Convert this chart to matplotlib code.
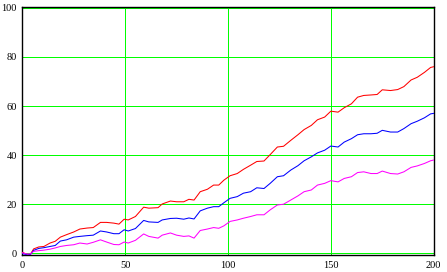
import matplotlib
matplotlib.use("Agg")
from matplotlib import pyplot as plt

# sample positions
x = [0, 2.5, 4, 5.5, 8, 10.5, 13.5, 16, 18.5, 21.5, 25, 28, 31.5, 34.5, 38,
     41, 44.5, 47, 49.5, 51.5, 55, 59, 61.5, 66, 68, 72, 75, 78.5, 81, 83.5,
     86.5, 90, 93, 95.5, 98, 101, 104.5, 107.5, 111, 114, 117.5, 120.5, 124,
     127, 130.5, 134, 137, 140.5, 143.5, 147, 150, 153.5, 156.5, 160, 163,
     166, 169.5, 172.5, 175, 179, 182.5, 185.5, 189, 192, 195.5, 198.5, 200]

red = [0.4, -0.5, -0.3, 1.8, 2.6, 2.8, 4.2, 4.9, 6.6, 7.6, 8.7, 9.9, 10.3,
       10.5, 12.6, 12.6, 12.3, 11.9, 13.9, 13.6, 15.0, 18.8, 18.4, 18.6, 20.1,
       21.3, 21.0, 21.0, 22.0, 21.7, 25.1, 26.1, 27.8, 27.8, 29.8, 31.6, 32.5,
       34.2, 35.9, 37.4, 37.6, 40.2, 43.3, 43.6, 46.0, 48.3, 50.4, 52.1, 54.4,
       55.5, 57.9, 57.5, 59.3, 60.9, 63.6, 64.3, 64.5, 64.7, 66.6, 66.3, 66.7,
       67.9, 70.6, 71.7, 73.7, 75.7, 76.0]

blue = [-0.1, -0.6, -0.4, 1.2, 2.0, 2.3, 2.8, 3.2, 5.0, 5.5, 6.6, 6.9, 7.2,
        7.4, 9.1, 8.7, 8.0, 8.0, 9.6, 9.1, 10.1, 13.4, 12.8, 12.6, 13.6, 14.2,
        14.3, 13.9, 14.4, 14.0, 17.3, 18.4, 19.0, 19.0, 20.6, 22.4, 23.1, 24.5,
        25.1, 26.7, 26.4, 28.5, 31.2, 31.6, 33.9, 35.7, 37.7, 39.3, 40.9, 42.0,
        43.7, 43.3, 45.3, 46.7, 48.3, 48.7, 48.7, 48.9, 50.1, 49.4, 49.4, 50.8,
        52.8, 53.8, 55.2, 56.8, 57.0]

magenta = [0.2, -0.3, -0.2, 0.8, 1.1, 1.3, 1.7, 2.2, 2.8, 3.2, 3.5, 4.2, 3.8,
           4.5, 5.5, 4.6, 3.6, 3.5, 4.6, 4.2, 5.3, 7.9, 6.9, 6.2, 7.4, 8.3, 7.4,
           6.9, 7.1, 6.2, 9.3, 9.9, 10.5, 10.2, 11.2, 13.0, 13.6, 14.3, 15.0,
           15.7, 15.7, 17.7, 19.7, 20.0, 21.7, 23.4, 25.1, 25.8, 27.8, 28.5,
           29.6, 29.1, 30.5, 31.2, 32.9, 33.2, 32.5, 32.5, 33.5, 32.5, 32.3,
           33.2, 35.0, 35.6, 36.6, 37.7, 38.0]

x_ticks = [0, 50, 100, 150, 200]
y_ticks = [0, 20, 40, 60, 80, 100]

fig = plt.figure(figsize=(4.47, 2.72), dpi=100)
ax = fig.add_axes([22.3 / 447, 1 - 255.3 / 272, 411.4 / 447, 248 / 272])

for series, color in ((red, "#ff0000"), (blue, "#0000ff"), (magenta, "#ff00ff")):
    ax.plot(x, series, color=color, lw=0.75, antialiased=True, zorder=3)

ax.set_xlim(0, 200)
ax.set_ylim(-0.8, 100.2)
ax.set_xticks(x_ticks)
ax.set_yticks(y_ticks)
ax.grid(True, color="#00ff00", lw=0.72, antialiased=False)
ax.set_axisbelow(True)
ax.tick_params(length=0, labelsize=7.5, pad=4)
for label in ax.get_xticklabels() + ax.get_yticklabels():
    label.set_fontfamily("Liberation Serif")
for spine in ax.spines.values():
    spine.set_color("black")
    spine.set_linewidth(1.0)

fig.savefig("out.png", dpi=100)
